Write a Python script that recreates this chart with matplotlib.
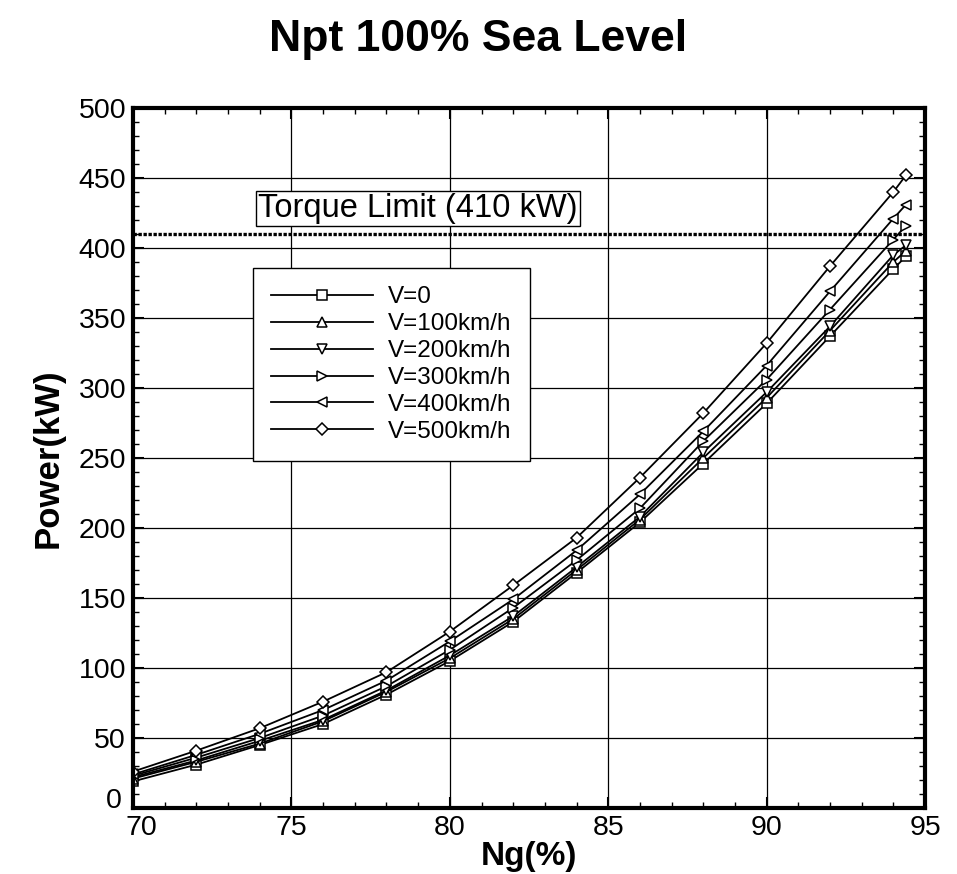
import matplotlib
matplotlib.use("Agg")
import matplotlib.pyplot as plt
from matplotlib.ticker import MultipleLocator
from matplotlib.transforms import ScaledTranslation

plt.rcParams['font.family'] = ['Liberation Sans', 'DejaVu Sans']

# Ng (%) stations
ng = [70, 72, 74, 76, 78, 80, 82, 84, 86, 88, 90, 92, 94, 94.4]

# power (kW) for each flight speed
p_v0 = [19, 31, 45, 60, 81, 105, 133, 168, 204, 246, 289, 337, 385, 394]
p_v100 = [21, 33, 46, 62, 83, 107, 135, 170, 206, 250, 293, 341, 390, 398]
p_v200 = [22, 34, 48, 63, 84, 109, 137, 172, 208, 254, 297, 344, 395, 402]
p_v300 = [23, 36, 50, 66, 87, 113, 143, 177, 214, 262, 306, 356, 406, 416]
p_v400 = [24, 38, 53, 70, 91, 119, 149, 184, 224, 269, 316, 369, 421, 431]
p_v500 = [26, 41, 57, 76, 97, 126, 159, 193, 236, 282, 332, 387, 440, 452]

labels = ['V=0', 'V=100km/h', 'V=200km/h', 'V=300km/h', 'V=400km/h', 'V=500km/h']
markers = ['s', '^', 'v', '>', '<', 'D']
torque_limit = 410

fig = plt.figure(figsize=(9.57, 8.74), dpi=100)
ax = fig.add_axes([0.139, 0.0755, 0.8276, 0.801])

series = [p_v0, p_v100, p_v200, p_v300, p_v400, p_v500]
for vals, lab, m in zip(series, labels, markers):
    ms = 6.5 if m == 'D' else 7.5
    ax.plot(ng, vals, color='black', lw=1.3, marker=m, ms=ms,
            mfc='white', mec='black', mew=1.1, label=lab)

# torque limit line
ax.axhline(torque_limit, color='black', lw=2.4, ls=(0, (1, 0.5)), zorder=3)
ax.text(73.95, 428, 'Torque Limit (410 kW)', fontsize=23.5, va='center', ha='left',
        bbox=dict(boxstyle='square,pad=0.06', fc='white', ec='black', lw=1))

ax.set_xlim(70, 95)
ax.set_ylim(0, 500)
ax.set_xticks(range(70, 96, 5))
ax.set_yticks(range(0, 501, 50))
ax.xaxis.set_minor_locator(MultipleLocator(1))
ax.yaxis.set_minor_locator(MultipleLocator(10))
ax.tick_params(which='both', direction='in', top=True, right=True, labelsize=20.5)
ax.tick_params(which='major', length=8, width=1.5, pad=5)
ax.tick_params(which='minor', length=4, width=1)
ax.grid(True, which='major', color='black', lw=0.9)
for s in ax.spines.values():
    s.set_linewidth(3)

ax.set_xlabel('Ng(%)', fontsize=24, fontweight='bold', labelpad=0)
ax.set_ylabel('Power(kW)', fontsize=25, fontweight='bold', labelpad=10)
fig.suptitle('Npt 100% Sea Level', fontsize=32, fontweight='bold', y=0.978)

leg = ax.legend(loc='upper left', bbox_to_anchor=(0.1515, 0.771), fontsize=17.5,
                handlelength=4.2, numpoints=1, fancybox=False, framealpha=1,
                edgecolor='black', borderpad=0.75, labelspacing=0.2, handletextpad=0.6,
                borderaxespad=0)
leg.get_frame().set_linewidth(1)
leg._legend_box.sep = 0

# nudge the corner labels apart as in the original
fig.canvas.draw()
lab0 = ax.yaxis.get_major_ticks()[0].label1
lab0.set_transform(lab0.get_transform() + ScaledTranslation(-3 / 72, 7 / 72, fig.dpi_scale_trans))
lab70 = ax.xaxis.get_major_ticks()[0].label1
lab70.set_transform(lab70.get_transform() + ScaledTranslation(6 / 72, 0, fig.dpi_scale_trans))

fig.savefig('out.png', dpi=100)
